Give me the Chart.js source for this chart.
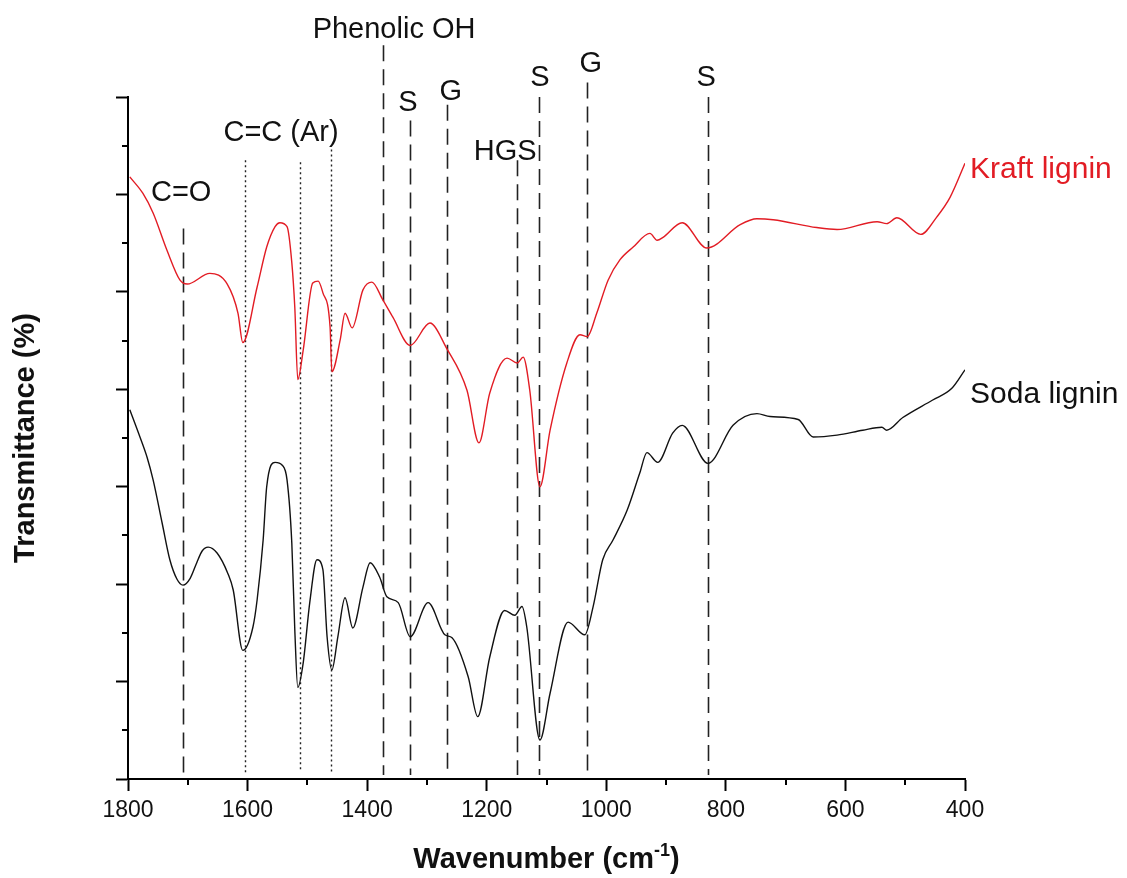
<!DOCTYPE html>
<html><head><meta charset="utf-8">
<script src="https://cdn.jsdelivr.net/npm/chart.js@4"></script>
<style>html,body{margin:0;padding:0;background:#fff}#wrap{width:1127px;height:878px}</style>
</head><body><div id="wrap"><canvas id="c" width="1127" height="878"></canvas></div>
<script>
// ---- data ----
const xTicks = [1800, 1600, 1400, 1200, 1000, 800, 600, 400];
const kraftWn = [1797,1775,1758,1735,1713,1701,1663,1634,1616,1608,1584,1568,1554,1546,1534,1526,1521,1516,1507,1491,1482,1474,1462,1459,1445,1437,1425,1407,1392,1374,1357,1328,1295,1267,1233,1213,1195,1166,1149,1139,1128,1111,1094,1066,1044,1032,1016,997,977,955,927,915,905,873,832,776,748,721,648,614,547,531,514,474,447,425,400];
const kraftT  = [61.8,60.1,58.1,54.3,51.2,50.8,51.9,50.8,47.8,44.8,50.5,54.6,56.7,57.1,56.7,53.0,48.4,41.0,44.0,50.9,51.1,49.9,46.4,41.8,45.1,47.8,46.3,50.2,51.0,49.2,47.4,44.5,46.8,44.2,39.9,34.5,39.6,43.2,42.7,43.3,39.9,30.0,35.8,42.7,45.6,45.4,47.8,51.2,53.3,54.6,56.0,55.3,55.6,57.1,54.5,56.9,57.5,57.4,56.6,56.4,57.2,57.0,57.6,55.9,57.7,59.7,63.2];
const sodaWn = [1797,1780,1768,1758,1743,1730,1718,1708,1696,1685,1676,1666,1651,1633,1624,1608,1591,1584,1574,1568,1554,1542,1534,1526,1521,1516,1507,1496,1484,1474,1467,1459,1449,1437,1424,1407,1395,1379,1367,1348,1328,1298,1270,1258,1231,1215,1195,1170,1153,1141,1133,1111,1094,1064,1036,1022,1006,989,965,944,932,914,889,873,830,788,748,726,679,654,614,571,539,531,504,454,422,400];
const sodaT  = [37.9,35.1,33.0,30.7,26.3,22.5,20.5,19.9,20.6,22.2,23.4,23.8,23.2,21.1,19.4,13.2,15.6,18.4,24.5,30.0,32.5,32.2,30.7,24.2,15.3,9.4,11.9,18.1,22.5,21.5,14.6,11.2,14.6,18.6,15.5,19.7,22.2,20.7,18.7,18.1,14.6,18.1,14.8,14.5,10.5,6.4,12.5,17.3,16.8,17.7,15.6,4.0,8.8,16.1,14.8,17.7,22.5,24.5,27.6,31.4,33.5,32.5,35.5,36.3,32.4,36.3,37.5,37.2,36.9,35.1,35.3,35.8,36.1,35.8,37.1,38.9,40.1,42.0];
const seriesNames = ['Kraft lignin', 'Soda lignin'];
// band assignments (wavenumber, line top in T units, dotted?)
const bandWn     = [1708, 1605, 1513, 1460, 1373, 1328, 1266, 1150, 1112, 1033, 830];
const bandTop    = [56.5, 63.5, 63.3, 64.6, 75.3, 67.6, 69.2, 63.5, 70.0, 71.5, 70.0];
const bandDotted = [false, true, true, true, false, false, false, false, false, false, false];
const bandLabels = ['C=O', 'C=C (Ar)', 'Phenolic OH', 'S', 'G', 'HGS', 'S', 'G', 'S'];
const labelWn    = [1711, 1544, 1355, 1332, 1260, 1169, 1111, 1026, 833];
const labelT     = [60.1, 66.3, 76.9, 69.4, 70.5, 64.4, 72.0, 73.4, 72.0];

// ---- styling ----
const FONT = "'Liberation Sans', Arial, sans-serif";
const RED = 'rgb(226,28,36)';
const BLACK = '#111';

function pts(xs, ys){ return xs.map((v,i)=>({x:v, y:ys[i]})); }

const annot = {
  id: 'annot',
  beforeDatasetsDraw(chart){
    const {ctx, scales:{x, y}} = chart;
    ctx.save();
    bandWn.forEach((w,i)=>{
      const px = Math.round(x.getPixelForValue(w)) + 0.5;
      ctx.beginPath();
      ctx.setLineDash(bandDotted[i] ? [2,3] : [16,8]);
      ctx.lineWidth = bandDotted[i] ? 1.4 : 1.6;
      ctx.strokeStyle = '#222';
      ctx.moveTo(px, y.getPixelForValue(bandTop[i]));
      ctx.lineTo(px, y.getPixelForValue(bandDotted[i] ? 0.7 : 0.4));
      ctx.stroke();
    });
    ctx.restore();
  },
  afterDraw(chart){
    const {ctx, chartArea:a, scales:{x, y}} = chart;
    ctx.save();
    // minor ticks
    ctx.strokeStyle = '#000'; ctx.lineWidth = 2; ctx.setLineDash([]);
    for (let v = 1700; v > 400; v -= 200){
      const px = Math.round(x.getPixelForValue(v));
      ctx.beginPath(); ctx.moveTo(px, a.bottom); ctx.lineTo(px, a.bottom + 6); ctx.stroke();
    }
    for (let v = 5; v < 70; v += 10){
      const py = Math.round(y.getPixelForValue(v));
      ctx.beginPath(); ctx.moveTo(a.left, py); ctx.lineTo(a.left - 6, py); ctx.stroke();
    }
    // band labels
    ctx.fillStyle = BLACK; ctx.textAlign = 'center'; ctx.textBaseline = 'middle';
    ctx.font = `29px ${FONT}`;
    bandLabels.forEach((t,i)=>{
      ctx.fillText(t, x.getPixelForValue(labelWn[i]), y.getPixelForValue(labelT[i]));
    });
    // series labels
    ctx.textAlign = 'left'; ctx.font = `30px ${FONT}`;
    ctx.fillStyle = RED;
    ctx.fillText(seriesNames[0], a.right + 5, y.getPixelForValue(62.5));
    ctx.fillStyle = BLACK;
    ctx.fillText(seriesNames[1], a.right + 5, y.getPixelForValue(39.4));
    // x title with superscript
    const main = 'Wavenumber (cm', sup = '-1', end = ')';
    ctx.font = `bold 29px ${FONT}`;
    const w1 = ctx.measureText(main).width, w3 = ctx.measureText(end).width;
    ctx.font = `bold 18px ${FONT}`;
    const w2 = ctx.measureText(sup).width;
    const total = w1 + w2 + w3;
    let sx = (a.left + a.right)/2 - total/2;
    const base = 868;
    ctx.textBaseline = 'alphabetic';
    ctx.font = `bold 29px ${FONT}`; ctx.fillText(main, sx, base);
    ctx.font = `bold 18px ${FONT}`; ctx.fillText(sup, sx + w1, base - 12);
    ctx.font = `bold 29px ${FONT}`; ctx.fillText(end, sx + w1 + w2, base);
    ctx.restore();
  }
};

new Chart(document.getElementById('c'), {
  type: 'line',
  data: {
    datasets: [
      {label: seriesNames[0], data: pts(kraftWn, kraftT), borderColor: RED, borderWidth: 1.4, pointRadius: 0, cubicInterpolationMode: 'monotone', fill: false},
      {label: seriesNames[1], data: pts(sodaWn, sodaT), borderColor: BLACK, borderWidth: 1.4, pointRadius: 0, cubicInterpolationMode: 'monotone', fill: false}
    ]
  },
  options: {
    responsive: false, animation: false,
    layout: {padding: {left: 0, right: 162, top: 97, bottom: 0}},
    plugins: {legend: {display: false}, tooltip: {enabled: false}},
    scales: {
      x: {
        type: 'linear', reverse: true, min: 400, max: 1800,
        afterBuildTicks: s => { s.ticks = xTicks.map(v => ({value: v})); },
        ticks: {color: BLACK, font: {family: FONT, size: 23}, padding: 6, maxRotation: 0, autoSkip: false, callback: v => String(v)},
        grid: {drawOnChartArea: false, drawTicks: true, tickLength: 12, tickWidth: 2, tickColor: '#000'},
        border: {display: true, color: '#000', width: 2},
        afterFit: s => { s.height = 99; }
      },
      y: {
        type: 'linear', min: 0, max: 70,
        ticks: {stepSize: 10, display: false},
        grid: {drawOnChartArea: false, drawTicks: true, tickLength: 12, tickWidth: 2, tickColor: '#000'},
        border: {display: true, color: '#000', width: 2},
        title: {display: true, text: 'Transmittance (%)', color: BLACK, font: {family: FONT, size: 29, weight: 'bold'}, padding: {top: 9, bottom: 0}},
        afterFit: s => { s.width = 128; }
      }
    }
  },
  plugins: [annot]
});
</script></body></html>
